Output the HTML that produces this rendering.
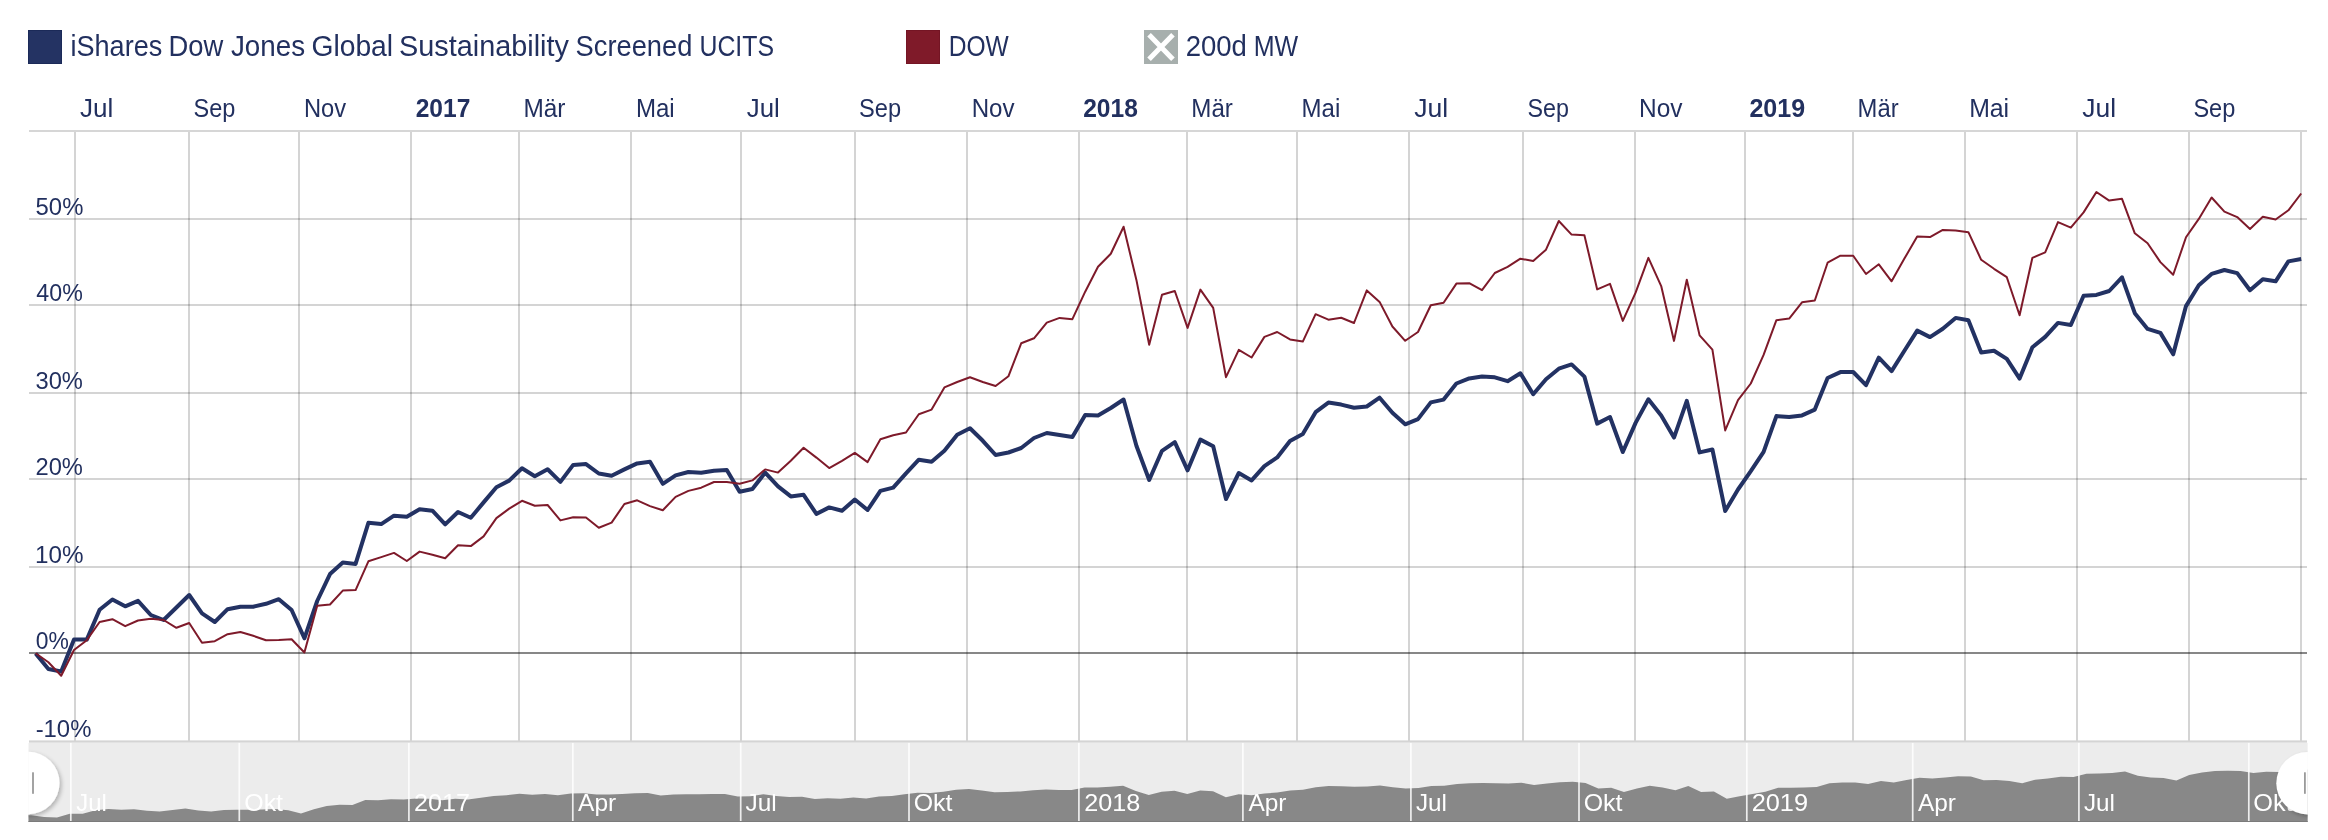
<!DOCTYPE html><html><head><meta charset="utf-8"><style>html,body{margin:0;padding:0;background:#fff;overflow:hidden;}svg{display:block;font-family:"Liberation Sans",sans-serif;}text{opacity:0.999;}</style></head><body>
<svg width="2328" height="840" viewBox="0 0 2328 840">
<defs><clipPath id="pc"><rect x="29" y="132" width="2278" height="609"/></clipPath><clipPath id="nc"><rect x="28.3" y="742.7" width="2279.5" height="79.3"/></clipPath><filter id="sh" x="-50%" y="-50%" width="200%" height="200%"><feGaussianBlur in="SourceAlpha" stdDeviation="2"/><feOffset dx="1.5" dy="1.5" result="b"/><feComponentTransfer><feFuncA type="linear" slope="0.25"/></feComponentTransfer><feMerge><feMergeNode/><feMergeNode in="SourceGraphic"/></feMerge></filter></defs>
<rect x="28.5" y="30.5" width="33" height="33" fill="#243363" stroke="#1b2a58" stroke-width="1"/>
<rect x="906.5" y="30.5" width="33" height="33" fill="#7f1a29" stroke="#741524" stroke-width="1"/>
<rect x="1144" y="30" width="34" height="34" fill="#a7afad"/>
<path d="M1150.8 36.6 L1171.2 57.4 M1171.2 36.6 L1150.8 57.4" stroke="#fff" stroke-width="5" stroke-linecap="square"/>
<rect x="29" y="218" width="2278" height="2" fill="rgba(0,0,0,0.17)"/><rect x="29" y="304" width="2278" height="2" fill="rgba(0,0,0,0.17)"/><rect x="29" y="392" width="2278" height="2" fill="rgba(0,0,0,0.17)"/><rect x="29" y="478" width="2278" height="2" fill="rgba(0,0,0,0.17)"/><rect x="29" y="566" width="2278" height="2" fill="rgba(0,0,0,0.17)"/><rect x="74.00" y="132" width="2" height="609" fill="rgba(0,0,0,0.17)"/><rect x="188.00" y="132" width="2" height="609" fill="rgba(0,0,0,0.17)"/><rect x="298.00" y="132" width="2" height="609" fill="rgba(0,0,0,0.17)"/><rect x="410.00" y="132" width="2" height="609" fill="rgba(0,0,0,0.17)"/><rect x="518.00" y="132" width="2" height="609" fill="rgba(0,0,0,0.17)"/><rect x="630.00" y="132" width="2" height="609" fill="rgba(0,0,0,0.17)"/><rect x="740.00" y="132" width="2" height="609" fill="rgba(0,0,0,0.17)"/><rect x="854.00" y="132" width="2" height="609" fill="rgba(0,0,0,0.17)"/><rect x="966.00" y="132" width="2" height="609" fill="rgba(0,0,0,0.17)"/><rect x="1078.00" y="132" width="2" height="609" fill="rgba(0,0,0,0.17)"/><rect x="1186.00" y="132" width="2" height="609" fill="rgba(0,0,0,0.17)"/><rect x="1296.00" y="132" width="2" height="609" fill="rgba(0,0,0,0.17)"/><rect x="1408.00" y="132" width="2" height="609" fill="rgba(0,0,0,0.17)"/><rect x="1522.00" y="132" width="2" height="609" fill="rgba(0,0,0,0.17)"/><rect x="1634.00" y="132" width="2" height="609" fill="rgba(0,0,0,0.17)"/><rect x="1744.00" y="132" width="2" height="609" fill="rgba(0,0,0,0.17)"/><rect x="1852.00" y="132" width="2" height="609" fill="rgba(0,0,0,0.17)"/><rect x="1964.00" y="132" width="2" height="609" fill="rgba(0,0,0,0.17)"/><rect x="2076.00" y="132" width="2" height="609" fill="rgba(0,0,0,0.17)"/><rect x="2188.00" y="132" width="2" height="609" fill="rgba(0,0,0,0.17)"/><rect x="2300.00" y="132" width="2" height="609" fill="rgba(0,0,0,0.17)"/>
<rect x="29" y="130" width="2278" height="2" fill="#d6d6d6"/>
<rect x="29" y="652" width="2278" height="2" fill="rgba(0,0,0,0.47)"/>
<rect x="29" y="740.4" width="2278" height="2.3" fill="#d4d4d4"/>
<polyline points="35.6,653.5 48.4,669.0 61.2,671.5 74.0,639.6 86.8,639.6 99.6,609.7 112.4,599.5 125.2,606.3 138.0,600.8 150.8,615.0 163.6,620.0 176.4,607.5 189.2,595.0 202.0,613.3 214.8,622.0 227.6,609.2 240.4,606.7 253.2,606.7 266.0,603.8 278.8,599.2 291.6,610.0 304.4,638.3 317.2,601.0 330.0,574.1 342.8,562.6 355.6,563.9 368.4,522.8 381.2,524.1 394.0,515.7 406.8,516.8 419.6,509.2 432.4,510.7 445.2,524.4 458.0,512.0 470.8,517.8 483.6,502.4 496.4,487.2 509.2,480.6 522.0,468.3 534.8,476.2 547.6,469.3 560.4,481.9 573.2,464.9 586.0,464.1 598.8,473.5 611.6,475.7 624.4,469.4 637.2,463.4 650.0,461.8 662.8,483.8 675.6,475.4 688.4,472.0 701.2,472.8 714.0,470.7 726.8,469.9 739.6,491.7 752.4,489.0 765.2,472.6 778.0,486.4 790.8,496.4 803.6,494.8 816.4,513.9 829.2,507.4 842.0,510.8 854.8,499.5 867.6,510.0 880.4,490.9 893.2,487.6 906.0,473.3 918.8,459.7 931.6,461.7 944.4,450.8 957.2,434.7 970.0,428.3 982.8,440.8 995.6,455.0 1008.4,452.5 1021.2,448.0 1034.0,438.0 1046.8,433.0 1059.6,435.0 1072.4,437.0 1085.2,415.0 1098.0,415.5 1110.8,408.0 1123.6,399.5 1136.4,445.8 1149.2,480.0 1162.0,450.8 1174.8,442.2 1187.6,470.3 1200.4,439.6 1213.2,446.2 1226.0,499.0 1238.8,473.0 1251.6,480.4 1264.4,466.1 1277.2,457.4 1290.0,441.0 1302.8,434.1 1315.6,412.2 1328.4,402.6 1341.2,404.6 1354.0,407.8 1366.8,406.5 1379.6,397.7 1392.4,412.8 1405.2,424.3 1418.0,419.1 1430.8,402.4 1443.6,399.6 1456.4,383.5 1469.2,378.4 1482.0,376.5 1494.8,377.3 1507.6,381.2 1520.4,373.3 1533.2,394.2 1546.0,379.3 1558.8,368.7 1571.6,364.4 1584.4,376.6 1597.2,423.6 1610.0,417.0 1622.8,452.0 1635.6,422.9 1648.4,399.3 1661.2,415.5 1674.0,437.6 1686.8,400.9 1699.6,452.4 1712.4,449.5 1725.2,511.0 1738.0,489.5 1750.8,471.2 1763.6,451.9 1776.4,416.1 1789.2,417.1 1802.0,415.4 1814.8,409.6 1827.6,378.0 1840.4,372.1 1853.2,372.0 1866.0,385.2 1878.8,357.7 1891.6,371.1 1904.4,350.7 1917.2,330.6 1930.0,337.1 1942.8,328.8 1955.6,317.9 1968.4,320.2 1981.2,352.5 1994.0,350.7 2006.8,358.9 2019.6,378.6 2032.4,347.3 2045.2,336.9 2058.0,322.9 2070.8,325.0 2083.6,295.7 2096.4,294.9 2109.2,291.0 2122.0,277.3 2134.8,313.2 2147.6,328.9 2160.4,332.9 2173.2,354.3 2186.0,306.1 2198.8,285.2 2211.6,273.9 2224.4,270.0 2237.2,273.1 2250.0,290.2 2262.8,279.2 2275.6,281.3 2288.4,261.4 2301.2,259.0" fill="none" stroke="#233263" stroke-width="4" stroke-linejoin="round" stroke-linecap="butt"/>
<polyline points="35.6,653.3 48.4,662.2 61.2,675.8 74.0,650.0 86.8,640.2 99.6,622.0 112.4,619.2 125.2,626.2 138.0,620.5 150.8,618.8 163.6,620.0 176.4,627.8 189.2,623.0 202.0,642.8 214.8,641.2 227.6,634.2 240.4,632.0 253.2,635.8 266.0,640.3 278.8,640.0 291.6,639.3 304.4,652.5 317.2,605.8 330.0,604.5 342.8,590.6 355.6,590.1 368.4,561.3 381.2,557.1 394.0,552.9 406.8,561.0 419.6,551.6 432.4,554.7 445.2,558.2 458.0,545.3 470.8,546.1 483.6,536.4 496.4,518.1 509.2,508.6 522.0,500.8 534.8,505.8 547.6,505.0 560.4,520.4 573.2,517.3 586.0,517.5 598.8,527.8 611.6,522.6 624.4,504.0 637.2,500.3 650.0,506.1 662.8,510.3 675.6,496.9 688.4,490.9 701.2,487.7 714.0,482.0 726.8,482.0 739.6,483.8 752.4,480.4 765.2,469.4 778.0,472.6 790.8,460.8 803.6,447.7 816.4,457.6 829.2,468.1 842.0,460.8 854.8,452.9 867.6,462.1 880.4,439.3 893.2,435.3 906.0,432.5 918.8,414.2 931.6,409.6 944.4,387.4 957.2,382.0 970.0,377.3 982.8,382.0 995.6,386.0 1008.4,376.3 1021.2,343.3 1034.0,338.3 1046.8,322.6 1059.6,317.9 1072.4,319.2 1085.2,291.7 1098.0,266.8 1110.8,253.7 1123.6,226.7 1136.4,279.9 1149.2,344.8 1162.0,294.8 1174.8,291.0 1187.6,327.9 1200.4,289.6 1213.2,307.9 1226.0,377.2 1238.8,349.8 1251.6,357.5 1264.4,336.9 1277.2,332.0 1290.0,339.4 1302.8,341.6 1315.6,314.2 1328.4,319.7 1341.2,317.8 1354.0,323.0 1366.8,290.4 1379.6,301.9 1392.4,326.5 1405.2,340.8 1418.0,332.0 1430.8,305.2 1443.6,302.7 1456.4,283.6 1469.2,283.2 1482.0,290.2 1494.8,273.0 1507.6,266.9 1520.4,258.7 1533.2,260.9 1546.0,249.7 1558.8,221.0 1571.6,234.6 1584.4,235.2 1597.2,289.4 1610.0,283.9 1622.8,320.9 1635.6,292.7 1648.4,257.9 1661.2,286.1 1674.0,340.9 1686.8,279.8 1699.6,335.4 1712.4,349.6 1725.2,430.4 1738.0,400.2 1750.8,383.5 1763.6,354.9 1776.4,320.2 1789.2,318.6 1802.0,302.3 1814.8,300.5 1827.6,262.7 1840.4,255.7 1853.2,255.7 1866.0,274.0 1878.8,264.3 1891.6,281.3 1904.4,258.6 1917.2,236.5 1930.0,237.1 1942.8,229.9 1955.6,230.4 1968.4,232.2 1981.2,259.8 1994.0,268.8 2006.8,277.2 2019.6,315.2 2032.4,257.8 2045.2,252.3 2058.0,222.1 2070.8,227.6 2083.6,212.4 2096.4,192.0 2109.2,200.6 2122.0,198.8 2134.8,233.3 2147.6,243.3 2160.4,262.1 2173.2,274.7 2186.0,237.3 2198.8,218.9 2211.6,197.5 2224.4,211.6 2237.2,217.1 2250.0,228.9 2262.8,216.8 2275.6,219.5 2288.4,210.3 2301.2,193.5" fill="none" stroke="#7e1a2a" stroke-width="2" stroke-linejoin="round" stroke-linecap="butt"/>
<g clip-path="url(#nc)">
<rect x="28.3" y="742.7" width="2279.5" height="79.3" fill="#ececec"/>
<path d="M28.3,822 L28.3,815.3 L31.3,815.3 L44.1,817.1 L57.0,817.4 L69.8,813.7 L82.7,813.7 L95.5,810.2 L108.4,809.0 L121.2,809.8 L134.1,809.2 L146.9,810.8 L159.7,811.4 L172.6,809.9 L185.4,808.5 L198.3,810.6 L211.1,811.6 L224.0,810.1 L236.8,809.8 L249.7,809.8 L262.5,809.5 L275.3,809.0 L288.2,810.2 L301.0,813.5 L313.9,809.2 L326.7,806.0 L339.6,804.7 L352.4,804.9 L365.3,800.1 L378.1,800.2 L390.9,799.3 L403.8,799.4 L416.6,798.5 L429.5,798.7 L442.3,800.3 L455.2,798.8 L468.0,799.5 L480.9,797.7 L493.7,795.9 L506.6,795.2 L519.4,793.7 L532.2,794.7 L545.1,793.9 L557.9,795.3 L570.8,793.4 L583.6,793.3 L596.5,794.4 L609.3,794.6 L622.2,793.9 L635.0,793.2 L647.8,793.0 L660.7,795.6 L673.5,794.6 L686.4,794.2 L699.2,794.3 L712.1,794.0 L724.9,793.9 L737.8,796.5 L750.6,796.2 L763.4,794.2 L776.3,795.9 L789.1,797.0 L802.0,796.8 L814.8,799.0 L827.7,798.3 L840.5,798.7 L853.4,797.4 L866.2,798.6 L879.0,796.4 L891.9,796.0 L904.7,794.3 L917.6,792.7 L930.4,793.0 L943.3,791.7 L956.1,789.8 L969.0,789.1 L981.8,790.6 L994.6,792.2 L1007.5,791.9 L1020.3,791.4 L1033.2,790.2 L1046.0,789.6 L1058.9,789.9 L1071.7,790.1 L1084.6,787.6 L1097.4,787.6 L1110.2,786.7 L1123.1,785.7 L1135.9,791.1 L1148.8,795.1 L1161.6,791.7 L1174.5,790.7 L1187.3,794.0 L1200.2,790.4 L1213.0,791.2 L1225.9,797.3 L1238.7,794.3 L1251.5,795.2 L1264.4,793.5 L1277.2,792.5 L1290.1,790.6 L1302.9,789.8 L1315.8,787.2 L1328.6,786.1 L1341.5,786.3 L1354.3,786.7 L1367.1,786.6 L1380.0,785.5 L1392.8,787.3 L1405.7,788.6 L1418.5,788.0 L1431.4,786.1 L1444.2,785.8 L1457.1,783.9 L1469.9,783.3 L1482.7,783.1 L1495.6,783.2 L1508.4,783.6 L1521.3,782.7 L1534.1,785.1 L1547.0,783.4 L1559.8,782.2 L1572.7,781.7 L1585.5,783.1 L1598.3,788.6 L1611.2,787.8 L1624.0,791.9 L1636.9,788.5 L1649.7,785.7 L1662.6,787.6 L1675.4,790.2 L1688.3,785.9 L1701.1,791.9 L1713.9,791.6 L1726.8,798.7 L1739.6,796.2 L1752.5,794.1 L1765.3,791.8 L1778.2,787.7 L1791.0,787.8 L1803.9,787.6 L1816.7,786.9 L1829.5,783.2 L1842.4,782.6 L1855.2,782.6 L1868.1,784.1 L1880.9,780.9 L1893.8,782.4 L1906.6,780.1 L1919.5,777.7 L1932.3,778.5 L1945.2,777.5 L1958.0,776.3 L1970.8,776.5 L1983.7,780.3 L1996.5,780.1 L2009.4,781.0 L2022.2,783.3 L2035.1,779.7 L2047.9,778.5 L2060.8,776.8 L2073.6,777.1 L2086.4,773.7 L2099.3,773.6 L2112.1,773.1 L2125.0,771.5 L2137.8,775.7 L2150.7,777.5 L2163.5,778.0 L2176.4,780.5 L2189.2,774.9 L2202.0,772.5 L2214.9,771.1 L2227.7,770.7 L2240.6,771.1 L2253.4,773.0 L2266.3,771.8 L2279.1,772.0 L2292.0,769.7 L2304.8,769.4 L2307.8,769.4 L2307.8,822 Z" fill="#888888"/>
<rect x="69.95" y="742.7" width="1.7" height="79.3" fill="rgba(255,255,255,0.85)"/>
<rect x="238.45" y="742.7" width="1.7" height="79.3" fill="rgba(255,255,255,0.85)"/>
<rect x="408.05" y="742.7" width="1.7" height="79.3" fill="rgba(255,255,255,0.85)"/>
<rect x="571.95" y="742.7" width="1.7" height="79.3" fill="rgba(255,255,255,0.85)"/>
<rect x="739.85" y="742.7" width="1.7" height="79.3" fill="rgba(255,255,255,0.85)"/>
<rect x="908.15" y="742.7" width="1.7" height="79.3" fill="rgba(255,255,255,0.85)"/>
<rect x="1078.05" y="742.7" width="1.7" height="79.3" fill="rgba(255,255,255,0.85)"/>
<rect x="1242.05" y="742.7" width="1.7" height="79.3" fill="rgba(255,255,255,0.85)"/>
<rect x="1410.05" y="742.7" width="1.7" height="79.3" fill="rgba(255,255,255,0.85)"/>
<rect x="1578.15" y="742.7" width="1.7" height="79.3" fill="rgba(255,255,255,0.85)"/>
<rect x="1745.95" y="742.7" width="1.7" height="79.3" fill="rgba(255,255,255,0.85)"/>
<rect x="1911.85" y="742.7" width="1.7" height="79.3" fill="rgba(255,255,255,0.85)"/>
<rect x="2078.05" y="742.7" width="1.7" height="79.3" fill="rgba(255,255,255,0.85)"/>
<rect x="2247.95" y="742.7" width="1.7" height="79.3" fill="rgba(255,255,255,0.85)"/>
<rect x="28.3" y="821" width="2279.5" height="1" fill="#7b7b7b"/>
<text x="76.19" y="810.90" font-size="24" font-weight="normal" fill="#ffffff" textLength="30.56" lengthAdjust="spacingAndGlyphs" >Jul</text>
<text x="244.25" y="810.90" font-size="24" font-weight="normal" fill="#ffffff" textLength="38.80" lengthAdjust="spacingAndGlyphs" >Okt</text>
<text x="414.08" y="810.90" font-size="24" font-weight="normal" fill="#ffffff" textLength="56.02" lengthAdjust="spacingAndGlyphs" >2017</text>
<text x="578.11" y="810.90" font-size="24" font-weight="normal" fill="#ffffff" textLength="38.16" lengthAdjust="spacingAndGlyphs" >Apr</text>
<text x="745.60" y="810.90" font-size="24" font-weight="normal" fill="#ffffff" textLength="31.21" lengthAdjust="spacingAndGlyphs" >Jul</text>
<text x="913.69" y="810.90" font-size="24" font-weight="normal" fill="#ffffff" textLength="38.78" lengthAdjust="spacingAndGlyphs" >Okt</text>
<text x="1084.19" y="810.90" font-size="24" font-weight="normal" fill="#ffffff" textLength="56.11" lengthAdjust="spacingAndGlyphs" >2018</text>
<text x="1248.41" y="810.90" font-size="24" font-weight="normal" fill="#ffffff" textLength="38.04" lengthAdjust="spacingAndGlyphs" >Apr</text>
<text x="1415.96" y="810.90" font-size="24" font-weight="normal" fill="#ffffff" textLength="30.99" lengthAdjust="spacingAndGlyphs" >Jul</text>
<text x="1583.69" y="810.90" font-size="24" font-weight="normal" fill="#ffffff" textLength="38.78" lengthAdjust="spacingAndGlyphs" >Okt</text>
<text x="1751.69" y="810.90" font-size="24" font-weight="normal" fill="#ffffff" textLength="56.34" lengthAdjust="spacingAndGlyphs" >2019</text>
<text x="1918.00" y="810.90" font-size="24" font-weight="normal" fill="#ffffff" textLength="38.00" lengthAdjust="spacingAndGlyphs" >Apr</text>
<text x="2083.96" y="810.90" font-size="24" font-weight="normal" fill="#ffffff" textLength="30.99" lengthAdjust="spacingAndGlyphs" >Jul</text>
<text x="2253.36" y="810.90" font-size="24" font-weight="normal" fill="#ffffff" textLength="39.39" lengthAdjust="spacingAndGlyphs" >Okt</text>
<g filter="url(#sh)"><circle cx="28.3" cy="783" r="31.2" fill="#ffffff"/><circle cx="2307.6" cy="783.2" r="31.3" fill="#ffffff"/></g>
<rect x="32.1" y="772.3" width="1.8" height="21.5" fill="#9a9a9a"/>
<rect x="2304.0" y="772.3" width="1.8" height="21.5" fill="#9a9a9a"/>
</g>
<text x="70.47" y="55.80" font-size="29" font-weight="normal" fill="#22305f" textLength="91.80" lengthAdjust="spacingAndGlyphs" >iShares</text>
<text x="168.61" y="55.80" font-size="29" font-weight="normal" fill="#22305f" textLength="54.72" lengthAdjust="spacingAndGlyphs" >Dow</text>
<text x="230.95" y="55.80" font-size="29" font-weight="normal" fill="#22305f" textLength="74.14" lengthAdjust="spacingAndGlyphs" >Jones</text>
<text x="311.45" y="55.80" font-size="29" font-weight="normal" fill="#22305f" textLength="81.67" lengthAdjust="spacingAndGlyphs" >Global</text>
<text x="399.05" y="55.80" font-size="29" font-weight="normal" fill="#22305f" textLength="169.81" lengthAdjust="spacingAndGlyphs" >Sustainability</text>
<text x="575.59" y="55.80" font-size="29" font-weight="normal" fill="#22305f" textLength="116.74" lengthAdjust="spacingAndGlyphs" >Screened</text>
<text x="699.50" y="55.80" font-size="29" font-weight="normal" fill="#22305f" textLength="74.50" lengthAdjust="spacingAndGlyphs" >UCITS</text>
<text x="948.65" y="55.90" font-size="29" font-weight="normal" fill="#22305f" textLength="60.06" lengthAdjust="spacingAndGlyphs" >DOW</text>
<text x="1185.65" y="56.00" font-size="29" font-weight="normal" fill="#22305f" textLength="61.24" lengthAdjust="spacingAndGlyphs" >200d</text>
<text x="1253.77" y="56.00" font-size="29" font-weight="normal" fill="#22305f" textLength="44.45" lengthAdjust="spacingAndGlyphs" >MW</text>
<text x="80.06" y="117.20" font-size="25.4" font-weight="normal" fill="#22305f" textLength="33.28" lengthAdjust="spacingAndGlyphs" >Jul</text>
<text x="193.51" y="117.20" font-size="25.4" font-weight="normal" fill="#22305f" textLength="41.77" lengthAdjust="spacingAndGlyphs" >Sep</text>
<text x="303.96" y="117.20" font-size="25.4" font-weight="normal" fill="#22305f" textLength="42.16" lengthAdjust="spacingAndGlyphs" >Nov</text>
<text x="415.71" y="117.20" font-size="25.4" font-weight="bold" fill="#22305f" textLength="54.64" lengthAdjust="spacingAndGlyphs" >2017</text>
<text x="523.41" y="117.20" font-size="25.4" font-weight="normal" fill="#22305f" textLength="42.02" lengthAdjust="spacingAndGlyphs" >Mär</text>
<text x="635.95" y="117.20" font-size="25.4" font-weight="normal" fill="#22305f" textLength="38.79" lengthAdjust="spacingAndGlyphs" >Mai</text>
<text x="746.74" y="117.20" font-size="25.4" font-weight="normal" fill="#22305f" textLength="33.05" lengthAdjust="spacingAndGlyphs" >Jul</text>
<text x="859.05" y="117.20" font-size="25.4" font-weight="normal" fill="#22305f" textLength="42.03" lengthAdjust="spacingAndGlyphs" >Sep</text>
<text x="971.71" y="117.20" font-size="25.4" font-weight="normal" fill="#22305f" textLength="42.87" lengthAdjust="spacingAndGlyphs" >Nov</text>
<text x="1083.16" y="117.20" font-size="25.4" font-weight="bold" fill="#22305f" textLength="54.69" lengthAdjust="spacingAndGlyphs" >2018</text>
<text x="1191.29" y="117.20" font-size="25.4" font-weight="normal" fill="#22305f" textLength="41.61" lengthAdjust="spacingAndGlyphs" >Mär</text>
<text x="1301.58" y="117.20" font-size="25.4" font-weight="normal" fill="#22305f" textLength="38.74" lengthAdjust="spacingAndGlyphs" >Mai</text>
<text x="1414.17" y="117.20" font-size="25.4" font-weight="normal" fill="#22305f" textLength="34.06" lengthAdjust="spacingAndGlyphs" >Jul</text>
<text x="1527.51" y="117.20" font-size="25.4" font-weight="normal" fill="#22305f" textLength="41.41" lengthAdjust="spacingAndGlyphs" >Sep</text>
<text x="1639.07" y="117.20" font-size="25.4" font-weight="normal" fill="#22305f" textLength="43.48" lengthAdjust="spacingAndGlyphs" >Nov</text>
<text x="1749.41" y="117.20" font-size="25.4" font-weight="bold" fill="#22305f" textLength="55.70" lengthAdjust="spacingAndGlyphs" >2019</text>
<text x="1857.58" y="117.20" font-size="25.4" font-weight="normal" fill="#22305f" textLength="41.02" lengthAdjust="spacingAndGlyphs" >Mär</text>
<text x="1969.16" y="117.20" font-size="25.4" font-weight="normal" fill="#22305f" textLength="39.99" lengthAdjust="spacingAndGlyphs" >Mai</text>
<text x="2082.35" y="117.20" font-size="25.4" font-weight="normal" fill="#22305f" textLength="33.82" lengthAdjust="spacingAndGlyphs" >Jul</text>
<text x="2193.40" y="117.20" font-size="25.4" font-weight="normal" fill="#22305f" textLength="41.87" lengthAdjust="spacingAndGlyphs" >Sep</text>
<text x="35.58" y="214.80" font-size="24.2" font-weight="normal" fill="#22305f" textLength="47.78" lengthAdjust="spacingAndGlyphs" >50%</text>
<text x="36.34" y="300.80" font-size="24.2" font-weight="normal" fill="#22305f" textLength="46.45" lengthAdjust="spacingAndGlyphs" >40%</text>
<text x="35.51" y="388.80" font-size="24.2" font-weight="normal" fill="#22305f" textLength="47.44" lengthAdjust="spacingAndGlyphs" >30%</text>
<text x="35.48" y="474.80" font-size="24.2" font-weight="normal" fill="#22305f" textLength="47.45" lengthAdjust="spacingAndGlyphs" >20%</text>
<text x="34.95" y="562.80" font-size="24.2" font-weight="normal" fill="#22305f" textLength="48.51" lengthAdjust="spacingAndGlyphs" >10%</text>
<text x="35.78" y="648.80" font-size="24.2" font-weight="normal" fill="#22305f" textLength="33.10" lengthAdjust="spacingAndGlyphs" >0%</text>
<text x="35.63" y="737.00" font-size="24.2" font-weight="normal" fill="#22305f" textLength="55.77" lengthAdjust="spacingAndGlyphs" >-10%</text>
</svg></body></html>
